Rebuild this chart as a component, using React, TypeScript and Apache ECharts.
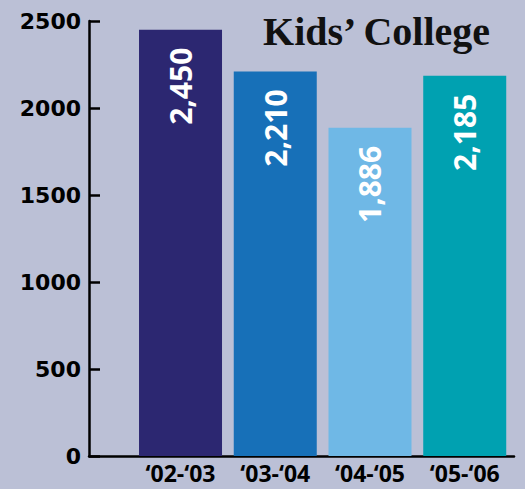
import React, { useEffect, useRef } from "react";
import * as echarts from "echarts";

const categories = ["‘02-‘03", "‘03-‘04", "‘04-‘05", "‘05-‘06"];
const values = [2450, 2210, 1886, 2185];
const barColors = ["#2C2771", "#1770B8", "#6FB8E6", "#00A1B1"];
const yTicks = { min: 0, max: 2500, interval: 500 };
const title = "Kids’ College";

export default function App() {
  const ref = useRef<HTMLDivElement>(null);
  useEffect(() => {
    if (!ref.current) return;
    const chart = echarts.init(ref.current, null, { renderer: "svg" });
    chart.setOption({
      animation: false,
      backgroundColor: "#BBC0D6",
      title: {
        text: title,
        right: 27,
        top: 6,
        textStyle: {
          fontFamily: "Liberation Serif",
          fontWeight: "bold",
          fontSize: 40,
          color: "#111111",
        },
      },
      grid: { left: 89, right: 11, top: 21, bottom: 33 },
      xAxis: {
        type: "value",
        min: -0.966,
        max: 3.52,
        splitLine: { show: false },
        axisLine: { show: true, onZero: false, lineStyle: { color: "#000", width: 2.5 } },
        axisTick: { show: false },
        axisLabel: {
          customValues: [0, 1, 2, 3],
          formatter: (v: number) => categories[Math.round(v)] ?? "",
          margin: 6,
          fontFamily: "Open Sans",
          fontWeight: "bold",
          fontSize: 23,
          lineHeight: 22,
          color: "#000",
          showMinLabel: true,
          showMaxLabel: true,
        },
      },
      yAxis: {
        type: "value",
        min: yTicks.min,
        max: yTicks.max,
        interval: yTicks.interval,
        splitLine: { show: false },
        axisLine: { show: true, onZero: false, lineStyle: { color: "#000", width: 2.5 } },
        axisTick: { show: true, inside: true, length: 11, lineStyle: { color: "#000", width: 2.5 } },
        axisLabel: {
          margin: 8,
          formatter: (v: number) => String(v),
          fontFamily: "DejaVu Sans",
          fontWeight: "bold",
          fontSize: 22,
          color: "#000",
        },
      },
      series: [
        {
          type: "bar",
          barWidth: 83,
          data: values.map((v, i) => ({
            value: [i, v],
            itemStyle: { color: barColors[i] },
          })),
          label: {
            show: true,
            position: "insideTop",
            rotate: 90,
            align: "right",
            verticalAlign: "middle",
            distance: 18,
            formatter: (p: any) => p.value[1].toLocaleString("en-US"),
            fontFamily: "Open Sans",
            fontWeight: "bold",
            fontSize: 30,
            color: "#fff",
          },
        },
      ],
    });
    return () => chart.dispose();
  }, []);
  return (
    <div
      ref={ref}
      style={{ position: "fixed", left: 0, top: 0, width: 525, height: 489 }}
    />
  );
}
